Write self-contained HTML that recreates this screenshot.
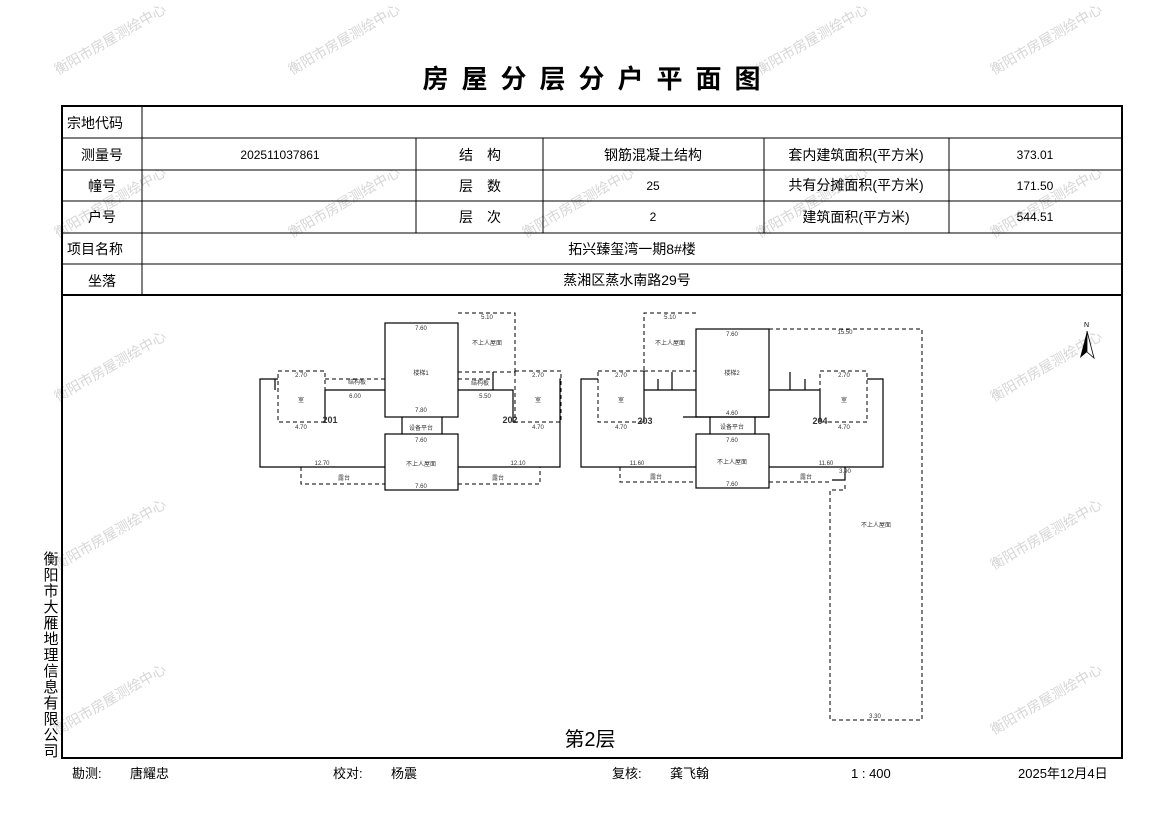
<!DOCTYPE html>
<html><head><meta charset="utf-8"><style>
body{margin:0;background:#fff;}
svg{display:block;font-family:"Liberation Sans","Noto Sans CJK SC",sans-serif;}
.t{font-size:14px;fill:#000;}
.s{font-size:6px;fill:#333;}
.wm{font-size:14px;fill:#d6d6d6;}
</style></head><body>
<svg width="1169" height="827" viewBox="0 0 1169 827" xmlns="http://www.w3.org/2000/svg">
<g class="wm">
<text transform="translate(58,75) rotate(-30)">衡阳市房屋测绘中心</text>
<text transform="translate(292,75) rotate(-30)">衡阳市房屋测绘中心</text>
<text transform="translate(760,75) rotate(-30)">衡阳市房屋测绘中心</text>
<text transform="translate(994,75) rotate(-30)">衡阳市房屋测绘中心</text>
<text transform="translate(58,238) rotate(-30)">衡阳市房屋测绘中心</text>
<text transform="translate(292,238) rotate(-30)">衡阳市房屋测绘中心</text>
<text transform="translate(526,238) rotate(-30)">衡阳市房屋测绘中心</text>
<text transform="translate(760,238) rotate(-30)">衡阳市房屋测绘中心</text>
<text transform="translate(994,238) rotate(-30)">衡阳市房屋测绘中心</text>
<text transform="translate(58,402) rotate(-30)">衡阳市房屋测绘中心</text>
<text transform="translate(994,402) rotate(-30)">衡阳市房屋测绘中心</text>
<text transform="translate(58,570) rotate(-30)">衡阳市房屋测绘中心</text>
<text transform="translate(994,570) rotate(-30)">衡阳市房屋测绘中心</text>
<text transform="translate(58,735) rotate(-30)">衡阳市房屋测绘中心</text>
<text transform="translate(994,735) rotate(-30)">衡阳市房屋测绘中心</text>
</g>
<text x="598" y="88" text-anchor="middle" style="font-size:26px;font-weight:bold;letter-spacing:13px">房屋分层分户平面图</text>
<g stroke="#000" fill="none">
<rect x="62" y="106" width="1060" height="652" stroke-width="2"/>
<line x1="62" y1="138" x2="1122" y2="138"/>
<line x1="62" y1="170" x2="1122" y2="170"/>
<line x1="62" y1="201" x2="1122" y2="201"/>
<line x1="62" y1="233" x2="1122" y2="233"/>
<line x1="62" y1="264" x2="1122" y2="264"/>
<line x1="62" y1="295" x2="1122" y2="295" stroke-width="2"/>
<line x1="142" y1="106" x2="142" y2="295"/>
<line x1="416" y1="138" x2="416" y2="233"/>
<line x1="543" y1="138" x2="543" y2="233"/>
<line x1="764" y1="138" x2="764" y2="233"/>
<line x1="949" y1="138" x2="949" y2="233"/>
</g>
<g class="t">
<text x="67" y="128">宗地代码</text>
<text x="102" y="160" text-anchor="middle">测量号</text>
<text x="102" y="191" text-anchor="middle">幢号</text>
<text x="102" y="222" text-anchor="middle">户号</text>
<text x="67" y="254">项目名称</text>
<text x="102" y="286" text-anchor="middle">坐落</text>
<text x="280" y="159" text-anchor="middle" style="font-size:12px">202511037861</text>
<text x="480" y="160" text-anchor="middle">结　构</text>
<text x="480" y="191" text-anchor="middle">层　数</text>
<text x="480" y="222" text-anchor="middle">层　次</text>
<text x="653" y="160" text-anchor="middle">钢筋混凝土结构</text>
<text x="653" y="190" text-anchor="middle" style="font-size:12px">25</text>
<text x="653" y="221" text-anchor="middle" style="font-size:12px">2</text>
<text x="856" y="160" text-anchor="middle">套内建筑面积(平方米)</text>
<text x="856" y="190" text-anchor="middle">共有分摊面积(平方米)</text>
<text x="856" y="222" text-anchor="middle">建筑面积(平方米)</text>
<text x="1035" y="159" text-anchor="middle" style="font-size:12px">373.01</text>
<text x="1035" y="190" text-anchor="middle" style="font-size:12px">171.50</text>
<text x="1035" y="221" text-anchor="middle" style="font-size:12px">544.51</text>
<text x="632" y="254" text-anchor="middle">拓兴臻玺湾一期8#楼</text>
<text x="627" y="285" text-anchor="middle">蒸湘区蒸水南路29号</text>
<text x="590" y="746" text-anchor="middle" style="font-size:20px">第2层</text>
<text x="72" y="778" style="font-size:13px">勘测:</text>
<text x="130" y="778" style="font-size:13px">唐耀忠</text>
<text x="333" y="778" style="font-size:13px">校对:</text>
<text x="391" y="778" style="font-size:13px">杨震</text>
<text x="612" y="778" style="font-size:13px">复核:</text>
<text x="670" y="778" style="font-size:13px">龚飞翰</text>
<text x="851" y="778" style="font-size:13px">1 : 400</text>
<text x="1018" y="778" style="font-size:13px">2025年12月4日</text>
</g>
<text x="50" y="551" style="font-size:15px" writing-mode="tb" glyph-orientation-vertical="0" letter-spacing="1">衡阳市大雁地理信息有限公司</text>
<text x="1084" y="327" style="font-size:7px">N</text>
<polygon points="1087,331 1080,358 1087,352" fill="#000"/>
<polygon points="1087,331 1094,358 1087,352" fill="#fff" stroke="#000" stroke-width="0.8"/>
<g fill="none" stroke="#000" stroke-width="1.2">
<rect x="385" y="323" width="73" height="94"/>
<polyline points="325,390 385,390"/><polyline points="325,390 325,422"/>
<polyline points="278,379 260,379 260,467 385,467"/>
<polyline points="458,390 513,390 513,422"/><polyline points="561,379 560,379 560,467 458,467"/>
<rect x="385" y="434" width="73" height="56"/>
<polyline points="402,417 402,434"/><polyline points="442,417 442,434"/>
<polyline points="275,379 275,390"/><polyline points="493,372 493,390"/>
<rect x="696" y="329" width="73" height="88" fill="none"/>
<polyline points="644,371 644,422"/><polyline points="644,390 696,390"/>
<polyline points="598,379 581,379 581,467 696,467"/>
<polyline points="769,390 820,390 820,422"/>
<polyline points="867,379 883,379 883,467 769,467"/>
<polyline points="683,417 710,417 710,434"/><polyline points="755,434 755,417 769,417"/>
<polyline points="710,417 755,417"/>
<rect x="696" y="434" width="73" height="54"/>
<polyline points="845,467 845,480 832,480"/>
<polyline points="658,379 658,390"/><polyline points="672,372 672,390"/>
<polyline points="790,372 790,390"/><polyline points="805,379 805,390"/>
</g>
<g fill="none" stroke="#000" stroke-width="1" stroke-dasharray="4,3">
<polyline points="458,313 515,313 515,372"/><polyline points="458,372 515,372"/>
<rect x="278" y="371" width="47" height="51"/>
<rect x="515" y="371" width="46" height="51"/>
<polyline points="325,379 385,379"/><polyline points="458,379 493,379"/>
<polyline points="301,467 301,484 385,484"/><polyline points="458,484 540,484 540,467"/>
<polyline points="696,313 644,313 644,371"/><polyline points="644,371 696,371"/>
<rect x="598" y="371" width="46" height="51"/>
<rect x="820" y="371" width="47" height="51"/>
<polyline points="620,467 620,482 696,482"/><polyline points="769,482 832,482"/>
<polyline points="769,329 922,329 922,720 830,720 830,490 845,490 845,484"/>
</g>
<g class="s" text-anchor="middle">
<text x="421" y="330">7.60</text><text x="421" y="412">7.80</text><text x="421" y="375">楼梯1</text>
<text x="487" y="319">5.10</text><text x="487" y="345">不上人屋面</text>
<text x="301" y="402">室</text><text x="538" y="402">室</text>
<text x="301" y="377">2.70</text><text x="538" y="377">2.70</text>
<text x="301" y="429">4.70</text><text x="538" y="429">4.70</text>
<text x="330" y="423" style="font-size:9px;font-weight:bold">201</text>
<text x="510" y="423" style="font-size:9px;font-weight:bold">202</text>
<text x="357" y="384">结构板</text><text x="355" y="398">6.00</text>
<text x="480" y="385">结构板</text><text x="485" y="398">5.50</text>
<text x="421" y="430">设备平台</text>
<text x="421" y="442">7.60</text><text x="421" y="466">不上人屋面</text><text x="421" y="488">7.60</text>
<text x="322" y="465">12.70</text><text x="518" y="465">12.10</text>
<text x="344" y="480">露台</text><text x="498" y="480">露台</text>
<text x="732" y="336">7.60</text><text x="732" y="375">楼梯2</text>
<text x="670" y="319">5.10</text><text x="670" y="345">不上人屋面</text>
<text x="621" y="377">2.70</text><text x="844" y="377">2.70</text>
<text x="621" y="402">室</text><text x="844" y="402">室</text>
<text x="621" y="429">4.70</text><text x="844" y="429">4.70</text>
<text x="645" y="424" style="font-size:9px;font-weight:bold">203</text>
<text x="820" y="424" style="font-size:9px;font-weight:bold">204</text>
<text x="732" y="429">设备平台</text><text x="732" y="415">4.60</text>
<text x="732" y="442">7.60</text><text x="732" y="464">不上人屋面</text><text x="732" y="486">7.60</text>
<text x="637" y="465">11.60</text><text x="826" y="465">11.60</text>
<text x="656" y="479">露台</text><text x="806" y="479">露台</text>
<text x="845" y="334">15.50</text><text x="876" y="527">不上人屋面</text><text x="875" y="718">3.30</text>
<text x="845" y="473">3.90</text>
</g>
</svg>
</body></html>
